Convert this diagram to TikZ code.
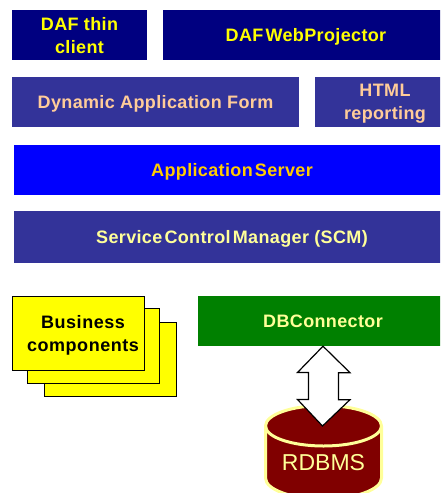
\documentclass[tikz,border=0pt]{standalone}
\usepackage{fontspec}
\setmainfont{Liberation Sans}
\newfontfamily\boxface[LetterSpace=2]{Liberation Sans}
\newfontfamily\sheetface[LetterSpace=3]{Liberation Sans}
\usetikzlibrary{calc}
\definecolor{navyc}{HTML}{000080}
\definecolor{purplec}{HTML}{333399}
\definecolor{bluec}{HTML}{0000FF}
\definecolor{greenc}{HTML}{008000}
\definecolor{redc}{HTML}{800000}
\definecolor{yellowc}{HTML}{FFFF00}
\definecolor{peachc}{HTML}{FFCC99}
\definecolor{goldc}{HTML}{FFCC00}
\definecolor{palec}{HTML}{FFFF99}
\newcommand{\tightwords}[1]{\begingroup\spaceskip=0.12em\relax #1\endgroup}
\tikzset{
  boxstyle/.style={inner sep=0pt,align=center,text depth=0pt,font=\fontsize{18}{23}\selectfont\boxface\bfseries},
  navybox/.style={boxstyle,fill=navyc,text=yellowc},
  purplebox/.style={boxstyle,fill=purplec,text=peachc},
  bluebox/.style={boxstyle,fill=bluec,text=goldc},
  scmbox/.style={boxstyle,fill=purplec,text=palec},
  greenbox/.style={boxstyle,fill=greenc,text=palec},
  sheet/.style={draw=black,line width=1.3pt,fill=yellowc,minimum width=132pt,minimum height=74.5pt,inner sep=0pt},
  sheetlabel/.style={inner sep=0pt,align=center,text depth=0pt,font=\fontsize{18}{23}\selectfont\sheetface\bfseries},
  linkarrow/.style={draw=black,line width=1.2pt,fill=white,line join=miter},
  drum/.style={draw=palec,line width=3pt,fill=redc,line join=round},
}
\begin{document}
\begin{tikzpicture}[x=1pt,y=-1pt]
\path[clip] (0,0) rectangle (440,493);
\fill[white] (0,0) rectangle (440,493);
% top rows
\node[navybox,minimum width=135pt,minimum height=50pt] (thin) at (79.5,35) {DAF thin\\client};
\node[navybox,minimum width=286pt,minimum height=50pt] (web) at (306,35) {\tightwords{DAF WebProjector}};
\node[purplebox,minimum width=287pt,minimum height=50pt] (daf) at (155.5,102) {Dynamic Application Form};
\node[purplebox,minimum width=140pt,minimum height=50pt] (html) at (385,102) {HTML\\reporting};
\node[bluebox,minimum width=436pt,minimum height=50pt] (app) at (232,170) {\tightwords{Application Server}};
\node[scmbox,minimum width=436pt,minimum height=52pt] (scm) at (232,237) {\tightwords{Service Control Manager} (SCM)};
\node[greenbox,minimum width=250pt,minimum height=50pt] (db) at (323,321) {DBConnector};
% stacked sheets
\node[sheet] (sheet3) at (110.5,359.5) {};
\node[sheet] (sheet2) at (93.5,346) {};
\node[sheet] (sheet1) at (78.5,333.5) {};
\node[sheetlabel] (bizlabel) at (83,333.5) {Business\\components};
% database drum
\path[drum] (265.5,426) -- (265.5,478) arc[start angle=180,end angle=360,x radius=58,y radius=-21] -- (381.5,426)
  arc[start angle=0,end angle=180,x radius=58,y radius=-20.5] -- cycle;
\path[drum,fill=none] (265.5,426) arc[start angle=180,end angle=360,x radius=58,y radius=-20];
\coordinate (drumtop) at (322.5,426);
\node[inner sep=0pt,text=palec,font=\fontsize{23}{28}\selectfont] (rdbms) at (323.5,463) {RDBMS};
% link between connector and database
\draw[linkarrow] (db.south) -- ++(27,26.5) -- ++(-11.5,0) -- ++(0,27) -- ++(11.5,0)
  -- (drumtop) -- ++(-25,-26.5) -- ++(11,0) -- ++(0,-27) -- ++(-11,0) -- cycle;
\end{tikzpicture}
\end{document}
